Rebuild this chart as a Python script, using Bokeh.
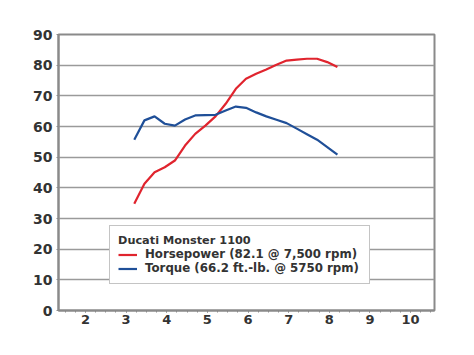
from bokeh.plotting import figure
from bokeh.models import SingleIntervalTicker, Range1d, Legend, LegendItem
from bokeh.embed import file_html
from bokeh.resources import INLINE

rpm = [3.2, 3.45, 3.7, 3.95, 4.2, 4.45, 4.7, 4.95, 5.2, 5.45, 5.7,
       5.95, 6.2, 6.45, 6.7, 6.95, 7.2, 7.45, 7.7, 7.95, 8.2]
horsepower = [34.8, 41.3, 45.1, 46.7, 48.9, 53.8, 57.6, 60.3, 63.3, 67.4, 72.3,
              75.6, 77.2, 78.6, 80.1, 81.5, 81.8, 82.1, 82.1, 81.0, 79.4]
torque = [55.7, 62.0, 63.3, 60.9, 60.3, 62.3, 63.6, 63.7, 63.8, 65.2, 66.5,
          66.1, 64.6, 63.3, 62.2, 61.1, 59.3, 57.5, 55.7, 53.3, 50.8]

legend_title = "Ducati Monster 1100"
hp_label = "Horsepower (82.1 @ 7,500 rpm)"
tq_label = "Torque (66.2 ft.-lb. @ 5750 rpm)"

p = figure(width=466, height=347, output_backend="svg", toolbar_location=None,
           x_range=Range1d(1.335, 10.59), y_range=Range1d(0, 90),
           min_border_left=58, min_border_right=32, min_border_top=34,
           min_border_bottom=37)

p.background_fill_color = "white"
p.border_fill_color = "white"
p.outline_line_color = "#8a8a8a"
p.outline_line_width = 2

hp = p.line(rpm, horsepower, line_color="#e0242e", line_width=2.2)
tq = p.line(rpm, torque, line_color="#1f4f98", line_width=2.2)

p.xaxis.ticker = SingleIntervalTicker(interval=1, num_minor_ticks=4)
p.yaxis.ticker = SingleIntervalTicker(interval=10, num_minor_ticks=0)

p.xgrid.grid_line_color = None
p.ygrid.grid_line_color = "#9a9a9a"
p.ygrid.grid_line_width = 1.5

for ax in (p.xaxis[0], p.yaxis[0]):
    ax.axis_line_color = "#8a8a8a"
    ax.axis_line_width = 2
    ax.major_tick_line_color = "#8a8a8a"
    ax.minor_tick_line_color = "#8a8a8a"
    ax.major_tick_in = 0
    ax.minor_tick_in = 0
    ax.major_label_text_font = "DejaVu Sans"
    ax.major_label_text_font_style = "bold"
    ax.major_label_text_color = "#333333"

p.xaxis.major_tick_out = 2
p.xaxis.minor_tick_out = 2
p.xaxis.major_label_text_font_size = "13px"
p.xaxis.major_label_standoff = 2
p.yaxis.major_tick_out = 2
p.yaxis.minor_tick_out = 0
p.yaxis.major_label_text_font_size = "14px"
p.yaxis.major_label_standoff = 4

legend = Legend(items=[LegendItem(label=hp_label, renderers=[hp]),
                       LegendItem(label=tq_label, renderers=[tq])],
                location=(51, 26), title=legend_title)
legend.title_text_font = "DejaVu Sans"
legend.title_text_font_style = "bold"
legend.title_text_font_size = "11.3px"
legend.title_text_color = "#333333"
legend.title_standoff = 0
legend.label_text_font = "DejaVu Sans"
legend.label_text_font_style = "bold"
legend.label_text_font_size = "11.8px"
legend.label_text_color = "#333333"
legend.border_line_color = "#8a8a8a"
legend.border_line_width = 1.5
legend.background_fill_alpha = 1
legend.glyph_width = 19
legend.label_standoff = 8
legend.label_width = 216
legend.spacing = 0
legend.padding = 8
legend.margin = 0
legend.label_height = 13
legend.glyph_height = 13
p.add_layout(legend, "center")

open("out.html", "w").write(file_html(p, INLINE))
